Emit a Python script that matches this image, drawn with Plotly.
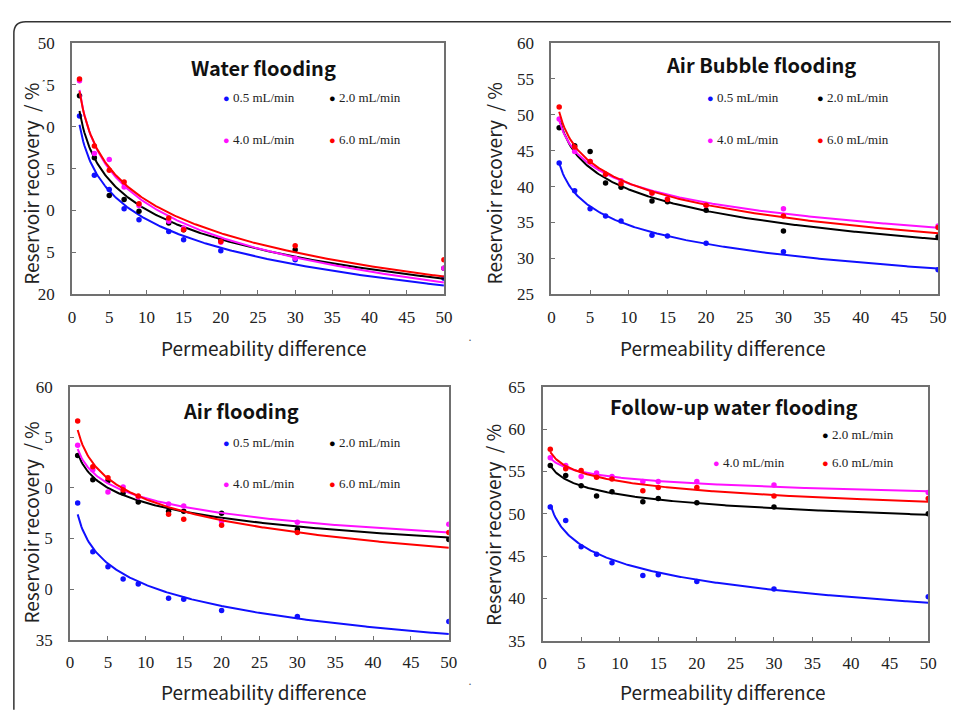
import numpy as np
import plotly.graph_objects as go

# ---------------- data ----------------
perm = [1, 3, 5, 7, 9, 13, 15, 20, 30, 50]
rates = ["0.5 mL/min", "2.0 mL/min", "4.0 mL/min", "6.0 mL/min"]
colors = ["#1010ff", "#000000", "#ff10ff", "#ff0000"]

water_05 = [41.3, 34.2, 32.5, 30.2, 28.9, 27.5, 26.5, 25.2, 24.1, 21.9]
water_20 = [43.7, 36.3, 31.8, 31.3, 29.9, 28.5, 27.7, 26.4, 25.3, 23.1]
water_40 = [45.5, 36.8, 36.1, 32.8, 30.6, 28.7, 27.9, 26.2, 24.3, 23.1]
water_60 = [45.7, 37.7, 34.8, 33.4, 30.8, 29.1, 27.7, 26.3, 25.8, 24.1]

bubble_05 = [43.3, 39.4, 36.9, 35.9, 35.2, 33.2, 33.1, 32.1, 30.9, 28.4]
bubble_20 = [48.2, 45.7, 44.9, 40.5, 39.9, 38.0, 37.9, 36.7, 33.8, 33.0]
bubble_40 = [49.4, 44.9, 43.5, 41.7, 40.8, 39.1, 38.3, 37.4, 36.9, 34.5]
bubble_60 = [51.1, 45.5, 43.5, 41.7, 40.4, 39.1, 38.2, 37.4, 35.9, 34.3]

air_05 = [48.5, 43.7, 42.2, 41.0, 40.5, 39.1, 39.0, 37.9, 37.3, 36.8]
air_20 = [53.2, 50.8, 50.7, 49.5, 48.6, 47.7, 47.7, 47.5, 45.9, 44.9]
air_40 = [54.2, 51.8, 49.6, 50.1, 49.1, 48.4, 48.2, 46.7, 46.6, 46.4]
air_60 = [56.6, 52.1, 51.0, 49.8, 49.2, 47.4, 46.9, 46.3, 45.6, 45.6]

follow_05 = [50.8, 49.2, 46.1, 45.2, 44.2, 42.7, 42.8, 42.0, 41.1, 40.2]
follow_20 = [55.7, 54.5, 53.3, 52.1, 52.6, 51.4, 51.8, 51.3, 50.8, 50.0]
follow_40 = [56.6, 55.7, 54.4, 54.8, 54.4, 53.8, 53.8, 53.8, 53.4, 52.5]
follow_60 = [57.6, 55.3, 55.1, 54.3, 54.1, 52.7, 53.1, 53.1, 52.1, 51.8]

panel_titles = ["Water flooding", "Air Bubble flooding", "Air flooding", "Follow-up water flooding"]
y_ranges = [(20, 50), (25, 60), (35, 60), (35, 65)]
x_title = "Permeability difference"
y_title = "Reservoir recovery  / %"

panels = [
    [water_05, water_20, water_40, water_60],
    [bubble_05, bubble_20, bubble_40, bubble_60],
    [air_05, air_20, air_40, air_60],
    [follow_05, follow_20, follow_40, follow_60],
]

# ---------------- layout geometry (pixels) ----------------
W, H = 955, 713
def px(x): return x / W
def py(y): return 1 - y / H

boxes = [  # left, right, top, bottom in pixels
    (69, 446, 35, 293),
    (555, 947, 35, 293),
    (67, 451, 388, 648),
    (546, 937, 388, 649),
]

fig = go.Figure()
serif = "Liberation Serif"
sans = "Noto Sans CJK SC"

xfit = np.linspace(1, 50, 300)
for i, series in enumerate(panels):
    ax = "" if i == 0 else str(i + 1)
    for j, vals in enumerate(series):
        coef = np.polyfit(np.log(perm), vals, 1)
        fig.add_trace(go.Scatter(
            x=xfit, y=np.polyval(coef, np.log(xfit)), mode="lines",
            line=dict(color=colors[j], width=2), xaxis="x" + ax, yaxis="y" + ax,
            showlegend=False, hoverinfo="skip"))
        fig.add_trace(go.Scatter(
            x=perm, y=vals, mode="markers",
            marker=dict(color=colors[j], size=5.5), xaxis="x" + ax, yaxis="y" + ax,
            showlegend=False, name=rates[j]))

    l, r, t, b = boxes[i]
    axis_common = dict(
        showline=True, linecolor="#707070", linewidth=2, mirror=True,
        ticks="inside", ticklen=4, tickcolor="#707070", tickwidth=1,
        showgrid=False, zeroline=False,
        tickfont=dict(family=serif, size=17, color="#222"),
    )
    fig.layout["xaxis" + ax] = dict(
        domain=[px(l), px(r)], range=[0, 50], dtick=5, tick0=0,
        anchor="y" + ax, ticklabelstandoff=6, **axis_common)
    fig.layout["yaxis" + ax] = dict(
        domain=[py(b), py(t)], range=list(y_ranges[i]), dtick=5,
        anchor="x" + ax, ticklabelstandoff=12, **axis_common)

# ---------------- annotations ----------------
ann = []
title_pos = [(263, 60), (767, 57), (240, 413), (740, 408)]
for i, (x, y) in enumerate(title_pos):
    ann.append(dict(x=px(x), y=py(y), xref="paper", yref="paper", text="<b>%s</b>" % panel_titles[i],
                    showarrow=False, font=dict(family=sans, size=20, color="#111"),
                    xanchor="center", yanchor="middle"))

xt_pos = [(263, 348), (728, 348), (263, 701), (728, 701)]
yt_pos = [(27, 180), (496, 179), (27, 528), (496, 530)]
for i in range(4):
    ann.append(dict(x=px(xt_pos[i][0]), y=py(xt_pos[i][1]), xref="paper", yref="paper",
                    text=x_title, showarrow=False, font=dict(family=sans, size=19, color="#222"),
                    xanchor="center", yanchor="middle"))
    ann.append(dict(x=px(yt_pos[i][0]), y=py(yt_pos[i][1]), xref="paper", yref="paper",
                    text=y_title, showarrow=False, textangle=-90, bgcolor="white", borderpad=1,
                    font=dict(family=sans, size=19, color="#222"),
                    xanchor="center", yanchor="middle"))

# legend-like labels inside plots (series index, x, y)
legend_pos = [
    [(0, 220, 91), (1, 327, 91), (2, 220, 134), (3, 327, 134)],
    [(0, 711, 91), (1, 822, 91), (2, 711, 134), (3, 822, 134)],
    [(0, 220, 445), (1, 327, 445), (2, 220, 488), (3, 327, 488)],
    [(1, 827, 437), (2, 717, 466), (3, 827, 466)],
]
for items in legend_pos:
    for j, x, y in items:
        ann.append(dict(x=px(x), y=py(y), xref="paper", yref="paper",
                        text="<span style='color:%s;font-size:11px'>●</span> %s" % (colors[j], rates[j]),
                        showarrow=False, font=dict(family=serif, size=13, color="#222"),
                        xanchor="left", yanchor="middle"))

# small stray dots present in the figure
for x, y in [(472, 340), (472, 693)]:
    ann.append(dict(x=px(x), y=py(y), xref="paper", yref="paper", text="·", showarrow=False,
                    font=dict(family=serif, size=12, color="#555"), xanchor="center", yanchor="middle"))

# page frame with rounded top-left corner
frame = ("M {x0} {yb} L {x0} {y1} Q {x0} {yt} {x2} {yt} L {xr} {yt}").format(
    x0=px(10), yb=py(720), y1=py(25), yt=py(13), x2=px(22), xr=px(960))

fig.update_layout(
    width=W, height=H, margin=dict(l=0, r=0, t=0, b=0),
    paper_bgcolor="white", plot_bgcolor="white",
    annotations=ann,
    shapes=[dict(type="path", path=frame, xref="paper", yref="paper",
                 line=dict(color="#333", width=1.5))],
)

fig.write_html("out.html", config={"displayModeBar": False},
               post_script="document.body.style.margin='0';document.body.style.overflow='hidden';")
